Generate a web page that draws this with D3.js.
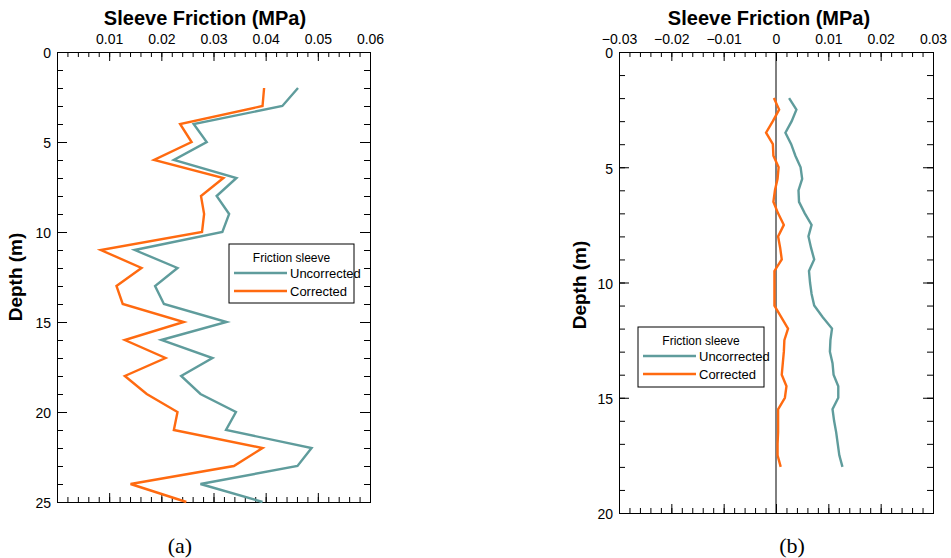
<!DOCTYPE html>
<html>
<head>
<meta charset="utf-8">
<script src="https://cdn.jsdelivr.net/npm/d3@7/dist/d3.min.js"></script>
<style>
  html, body { margin: 0; padding: 0; background: #fff; }
  svg { display: block; font-family: "Liberation Sans", Arial, sans-serif; }
</style>
</head>
<body>
<svg id="chart" width="951" height="558"></svg>
<script>
// ---------- Data: panel (a) ----------
const depthA = [2,3,4,5,6,7,8,9,10,11,12,13,14,15,16,17,18,19,20,21,22,23,24,25];
const uncorrectedA = [0.0462,0.0432,0.0262,0.0287,0.0224,0.0344,0.0306,0.0330,0.0317,0.0149,0.0231,0.0188,0.0205,0.0325,0.0200,0.0298,0.0238,0.0275,0.0343,0.0324,0.0488,0.0461,0.0275,0.0394];
const correctedA   = [0.0397,0.0394,0.0236,0.0258,0.0186,0.0319,0.0276,0.0282,0.0278,0.0084,0.0162,0.0114,0.0126,0.0243,0.0130,0.0208,0.0130,0.0172,0.0231,0.0224,0.0394,0.0339,0.0141,0.0248];
const xTicksA = [0.01,0.02,0.03,0.04,0.05,0.06];
const yTicksA = [0,5,10,15,20,25];

// ---------- Data: panel (b) ----------
const depthB = [2,2.5,3,3.5,4,4.5,5,5.5,6,6.5,7,7.5,8,8.5,9,9.5,10,10.5,11,11.5,12,12.5,13,13.5,14,14.5,15,15.5,16,16.5,17,17.5,18];
const uncorrectedB = [0.0025,0.0039,0.0030,0.0018,0.0029,0.0037,0.0047,0.0050,0.0043,0.0044,0.0055,0.0068,0.0062,0.0067,0.0073,0.0063,0.0065,0.0068,0.0073,0.0089,0.0107,0.0104,0.0103,0.0108,0.0110,0.0119,0.0119,0.0108,0.0111,0.0115,0.0118,0.0121,0.0127];
const correctedB   = [-0.0004,0.0006,-0.0006,-0.0019,-0.0006,-0.0005,0.0005,0.0003,-0.0002,-0.0005,0.0004,0.0015,0.0004,0.0008,0.0011,-0.0003,-0.0003,-0.0003,-0.0003,0.0010,0.0023,0.0016,0.0015,0.0013,0.0011,0.0020,0.0017,0.0004,0.0004,0.0004,0.0003,0.0003,0.0009];
const xTicksB = [-0.03,-0.02,-0.01,0,0.01,0.02,0.03];
const yTicksB = [0,5,10,15,20];

const seriesNames = ["Uncorrected","Corrected"];
const legendTitle = "Friction sleeve";
const colors = {Uncorrected: "#5f9c9c", Corrected: "#ff6a10"};

const svg = d3.select("#chart");

function panel(cfg) {
  const g = svg.append("g");
  const x = d3.scaleLinear().domain(cfg.xDomain).range([cfg.left, cfg.right]);
  const y = d3.scaleLinear().domain(cfg.yDomain).range([cfg.top, cfg.bottom]);
  const fmt = d => (d === 0 ? "0" : d3.format(".2f")(d));

  const minorX = d3.range(Math.round(cfg.xDomain[0]*500), Math.round(cfg.xDomain[1]*500)+1).map(v => v/500);
  const minorY = d3.range(cfg.yDomain[0], cfg.yDomain[1]+1);

  const axStyle = sel => { sel.selectAll("path").attr("stroke","#000"); sel.selectAll("line").attr("stroke","#000"); };

  // top axis
  g.append("g").attr("transform",`translate(0,${cfg.top})`)
    .call(d3.axisTop(x).tickValues(minorX).tickSize(-5).tickFormat(""))
    .call(axStyle);
  g.append("g").attr("transform",`translate(0,${cfg.top})`)
    .call(d3.axisTop(x).tickValues(cfg.xTicks).tickSize(-9).tickPadding(8).tickFormat(fmt))
    .call(axStyle)
    .call(s => s.selectAll("text").attr("font-size",14).attr("fill","#000").attr("font-family","Liberation Sans, Arial"));
  // bottom axis
  g.append("g").attr("transform",`translate(0,${cfg.bottom})`)
    .call(d3.axisBottom(x).tickValues(minorX).tickSize(-5).tickFormat(""))
    .call(axStyle);
  g.append("g").attr("transform",`translate(0,${cfg.bottom})`)
    .call(d3.axisBottom(x).tickValues(cfg.xTicks.concat([cfg.xDomain[0]])).tickSize(-9).tickFormat(""))
    .call(axStyle);
  // left axis
  g.append("g").attr("transform",`translate(${cfg.left},0)`)
    .call(d3.axisLeft(y).tickValues(minorY).tickSize(-6).tickFormat(""))
    .call(axStyle);
  g.append("g").attr("transform",`translate(${cfg.left},0)`)
    .call(d3.axisLeft(y).tickValues(cfg.yTicks).tickSize(-10).tickPadding(6).tickFormat(d3.format("d")))
    .call(axStyle)
    .call(s => s.selectAll("text").attr("font-size",14).attr("fill","#000").attr("dy","0.42em").attr("font-family","Liberation Sans, Arial"));
  // right axis
  g.append("g").attr("transform",`translate(${cfg.right},0)`)
    .call(d3.axisRight(y).tickValues(minorY).tickSize(-6).tickFormat(""))
    .call(axStyle);
  g.append("g").attr("transform",`translate(${cfg.right},0)`)
    .call(d3.axisRight(y).tickValues(cfg.yTicks).tickSize(-10).tickFormat(""))
    .call(axStyle);

  if (cfg.zeroLine) {
    g.append("line").attr("x1",x(0)).attr("x2",x(0)).attr("y1",cfg.top).attr("y2",cfg.bottom)
      .attr("stroke","#000").attr("stroke-width",1);
  }

  const line = d3.line().x(d => x(d[1])).y(d => y(d[0]));
  [["Uncorrected", cfg.unc], ["Corrected", cfg.cor]].forEach(([name, vals]) => {
    g.append("path")
      .datum(cfg.depth.map((d,i) => [d, vals[i]]))
      .attr("d", line)
      .attr("fill","none")
      .attr("stroke", colors[name])
      .attr("stroke-width", 2.4)
      .attr("stroke-linejoin","miter");
  });

  // titles
  g.append("text").attr("x", cfg.titleX).attr("y", 25).attr("text-anchor","middle")
    .attr("font-weight","bold").attr("font-size",20).text("Sleeve Friction (MPa)");
  g.append("text").attr("transform",`translate(${cfg.ylabX},${cfg.ylabY}) rotate(-90)`)
    .attr("text-anchor","middle").attr("font-weight","bold").attr("font-size",19).text("Depth (m)");
  g.append("text").attr("x", cfg.capX).attr("y", 553).attr("text-anchor","middle")
    .attr("font-family","Liberation Serif, Times New Roman, serif").attr("font-size",22).text(cfg.caption);

  // legend
  const L = cfg.legend;
  const lg = g.append("g");
  lg.append("rect").attr("x",L.x).attr("y",L.y).attr("width",L.w).attr("height",L.h)
    .attr("fill","#fff").attr("stroke","#000").attr("stroke-width",1);
  lg.append("text").attr("x",L.x + L.w*0.5).attr("y",L.y+18).attr("text-anchor","middle")
    .attr("font-family","Liberation Sans Narrow, Arial Narrow, sans-serif").attr("font-size",12).text(legendTitle);
  seriesNames.forEach((name,i) => {
    const yy = L.y + 29 + i*18;
    lg.append("line").attr("x1",L.x+5).attr("x2",L.x+58).attr("y1",yy).attr("y2",yy)
      .attr("stroke",colors[name]).attr("stroke-width",2.4);
    lg.append("text").attr("x",L.x+61).attr("y",yy+4.5)
      .attr("font-family","Liberation Sans Narrow, Arial Narrow, sans-serif").attr("font-size",13).text(name);
  });
}

panel({
  left:57, right:370, top:52, bottom:502,
  xDomain:[0,0.06], yDomain:[0,25], xTicks:xTicksA, yTicks:yTicksA,
  depth:depthA, unc:uncorrectedA, cor:correctedA,
  titleX:205, ylabX:22, ylabY:277, capX:180, caption:"(a)",
  legend:{x:229, y:244, w:125, h:59}, zeroLine:false
});
panel({
  left:619, right:933, top:52, bottom:513,
  xDomain:[-0.03,0.03], yDomain:[0,20], xTicks:xTicksB, yTicks:yTicksB,
  depth:depthB, unc:uncorrectedB, cor:correctedB,
  titleX:769, ylabX:586, ylabY:285, capX:792, caption:"(b)",
  legend:{x:638, y:327, w:126, h:60}, zeroLine:true
});
</script>
</body>
</html>
